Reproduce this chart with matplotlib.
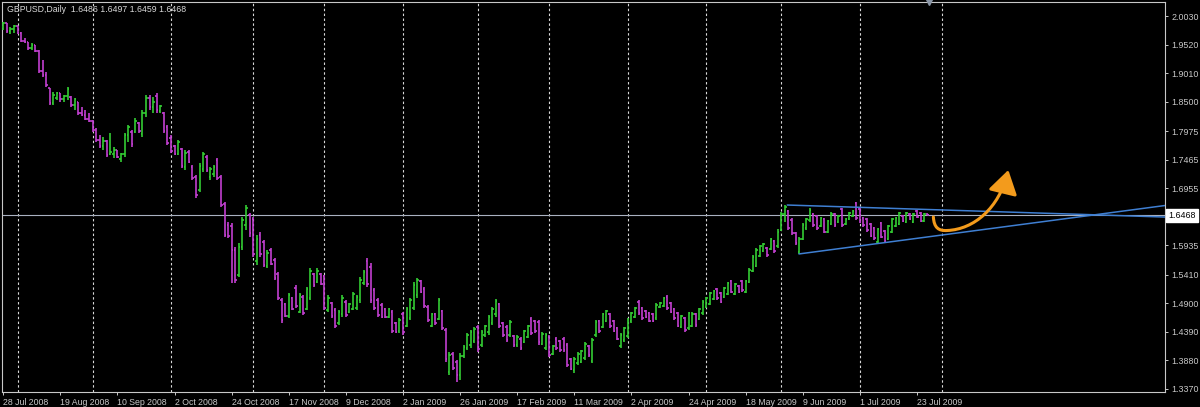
import matplotlib
matplotlib.use("Agg")
import matplotlib.pyplot as plt
from matplotlib.collections import LineCollection
from matplotlib.patches import FancyArrowPatch
from matplotlib.path import Path
import matplotlib.transforms as mtransforms

# ---------------- data (GBPUSD daily, 28 Jul 2008 .. 28 Jul 2009) ----------------
opens = [
 1.9830,1.9900,1.9760,1.9800,1.9850,1.9720,1.9590,1.9560,1.9450,1.9510,
 1.9400,1.9040,1.8980,1.8740,1.8480,1.8560,1.8650,1.8540,1.8600,1.8590,
 1.8440,1.8500,1.8300,1.8260,1.8190,1.8150,1.7990,1.7810,1.7700,1.7800,
 1.7560,1.7560,1.7640,1.7480,1.7560,1.7900,1.7950,1.7960,1.8120,1.7930,
 1.8300,1.8560,1.8400,1.8600,1.8330,1.8300,1.8050,1.7860,1.7700,1.7570,
 1.7650,1.7330,1.7600,1.7340,1.7150,1.6920,1.7300,1.7520,1.7150,1.7200,
 1.7450,1.7150,1.6680,1.6300,1.6280,1.5850,1.5400,1.5900,1.6300,1.6480,
 1.6400,1.5650,1.6120,1.5990,1.5560,1.5850,1.5680,1.5420,1.4960,1.4880,
 1.4680,1.4990,1.5180,1.4750,1.5020,1.4800,1.5000,1.5420,1.5280,1.5420,
 1.5380,1.4780,1.4900,1.4780,1.4540,1.4700,1.4930,1.4740,1.4800,1.4820,
 1.4950,1.5260,1.5650,1.5550,1.5130,1.4960,1.4870,1.4790,1.4660,1.4750,
 1.4540,1.4400,1.4700,1.4500,1.4640,1.4820,1.5050,1.5290,1.5150,1.4840,
 1.4500,1.4700,1.4620,1.4760,1.4430,1.3680,1.3990,1.3860,1.3620,1.3950,
 1.4100,1.4150,1.4220,1.4470,1.4150,1.4330,1.4380,1.4550,1.4700,1.4880,
 1.4540,1.4480,1.4330,1.4310,1.4150,1.4270,1.4210,1.4300,1.4620,1.4580,
 1.4560,1.4180,1.4100,1.4300,1.4000,1.4270,1.4220,1.4260,1.4160,1.3900,
 1.3700,1.3830,1.3860,1.3920,1.4140,1.3870,1.4330,1.4580,1.4480,1.4590,
 1.4700,1.4580,1.4450,1.4130,1.4240,1.4310,1.4580,1.4660,1.4930,1.4810,
 1.4760,1.4720,1.4700,1.4630,1.4830,1.4850,1.5020,1.4900,1.4790,1.4720,
 1.4480,1.4630,1.4450,1.4500,1.4700,1.4620,1.4720,1.4840,1.4890,1.4980,
 1.5150,1.5080,1.5010,1.5070,1.5290,1.5070,1.5210,1.5290,1.5100,1.5280,
 1.5480,1.5570,1.5750,1.5830,1.5890,1.5870,1.6010,1.5930,1.6200,1.6500,
 1.6540,1.6380,1.6150,1.5810,1.6050,1.6240,1.6380,1.6490,1.6450,1.6280,
 1.6400,1.6180,1.6320,1.6490,1.6350,1.6580,1.6310,1.6400,1.6450,1.6690,
 1.6580,1.6420,1.6400,1.6310,1.6240,1.6000,1.6330,1.6190,1.6050,1.6180,
 1.6280,1.6320,1.6460,1.6350,1.6500,1.6350,1.6550,1.6510,1.6370,1.6486,
]
highs = [
 1.9923,1.9910,1.9830,1.9870,1.9860,1.9750,1.9640,1.9565,1.9545,1.9515,
 1.9420,1.9240,1.9030,1.8745,1.8680,1.8670,1.8650,1.8620,1.8760,1.8600,
 1.8570,1.8500,1.8410,1.8350,1.8300,1.8173,1.8030,1.7905,1.7870,1.7816,
 1.7940,1.7690,1.7640,1.7580,1.7940,1.8084,1.7994,1.8200,1.8140,1.8351,
 1.8619,1.8619,1.8580,1.8655,1.8441,1.8315,1.8084,1.7905,1.7726,1.7816,
 1.7673,1.7637,1.7637,1.7369,1.7191,1.7405,1.7601,1.7548,1.7333,1.7369,
 1.7494,1.7191,1.6708,1.6351,1.6333,1.5904,1.5976,1.6440,1.6655,1.6512,
 1.6440,1.6119,1.6173,1.6030,1.5851,1.5887,1.5708,1.5458,1.4994,1.4905,
 1.5084,1.5012,1.5226,1.5084,1.5048,1.5191,1.5530,1.5441,1.5530,1.5441,
 1.5405,1.5048,1.4923,1.4816,1.4780,1.5048,1.4959,1.4905,1.5101,1.5048,
 1.5369,1.5494,1.5708,1.5619,1.5173,1.4994,1.4905,1.4816,1.4816,1.4780,
 1.4565,1.4637,1.4744,1.4834,1.4994,1.5280,1.5351,1.5316,1.5191,1.4869,
 1.4726,1.4726,1.4994,1.4780,1.4458,1.4030,1.4030,1.3887,1.4012,1.4155,
 1.4369,1.4423,1.4476,1.4512,1.4423,1.4512,1.4691,1.4834,1.4976,1.4905,
 1.4565,1.4512,1.4601,1.4334,1.4334,1.4298,1.4423,1.4512,1.4655,1.4601,
 1.4601,1.4387,1.4369,1.4334,1.4155,1.4298,1.4244,1.4298,1.4190,1.3923,
 1.3941,1.4030,1.4066,1.4208,1.4155,1.4280,1.4601,1.4601,1.4726,1.4780,
 1.4726,1.4601,1.4476,1.4369,1.4476,1.4637,1.4744,1.4834,1.4959,1.4834,
 1.4780,1.4744,1.4726,1.4905,1.4923,1.5012,1.5048,1.4923,1.4816,1.4744,
 1.4691,1.4655,1.4744,1.4744,1.4726,1.4816,1.4959,1.5012,1.5101,1.5137,
 1.5173,1.5101,1.5191,1.5280,1.5316,1.5262,1.5226,1.5316,1.5316,1.5530,
 1.5762,1.5887,1.5941,1.5976,1.5905,1.6065,1.6030,1.6230,1.6530,1.6655,
 1.6566,1.6423,1.6173,1.6083,1.6333,1.6423,1.6601,1.6512,1.6476,1.6441,
 1.6423,1.6387,1.6530,1.6512,1.6476,1.6601,1.6423,1.6530,1.6566,1.6708,
 1.6601,1.6441,1.6423,1.6333,1.6262,1.6244,1.6351,1.6209,1.6298,1.6423,
 1.6441,1.6530,1.6476,1.6530,1.6512,1.6512,1.6566,1.6530,1.6512,1.6497,
]
lows = [
 1.9780,1.9725,1.9700,1.9730,1.9700,1.9565,1.9550,1.9420,1.9420,1.9390,
 1.9010,1.8940,1.8760,1.8440,1.8440,1.8530,1.8495,1.8495,1.8530,1.8410,
 1.8350,1.8262,1.8240,1.8173,1.8140,1.7960,1.7780,1.7670,1.7640,1.7510,
 1.7550,1.7495,1.7495,1.7420,1.7510,1.7780,1.7690,1.7940,1.7940,1.7870,
 1.8230,1.8351,1.8300,1.8300,1.8300,1.7940,1.7726,1.7583,1.7548,1.7548,
 1.7315,1.7280,1.7405,1.7101,1.6780,1.6887,1.7244,1.7244,1.7101,1.7155,
 1.7101,1.6619,1.6083,1.6065,1.5262,1.5262,1.5369,1.5851,1.6209,1.6083,
 1.5726,1.5584,1.5726,1.5548,1.5530,1.5584,1.5316,1.4959,1.4548,1.4655,
 1.4637,1.4780,1.4816,1.4726,1.4691,1.4780,1.4959,1.5191,1.5262,1.5226,
 1.4780,1.4744,1.4637,1.4458,1.4512,1.4655,1.4655,1.4726,1.4780,1.4780,
 1.4905,1.5226,1.5191,1.4905,1.4780,1.4655,1.4637,1.4637,1.4637,1.4369,
 1.4369,1.4369,1.4334,1.4476,1.4601,1.4780,1.4994,1.5084,1.4816,1.4565,
 1.4476,1.4512,1.4601,1.4423,1.3851,1.3619,1.3709,1.3503,1.3530,1.3923,
 1.4066,1.4101,1.4191,1.4030,1.4119,1.4298,1.4334,1.4512,1.4655,1.4458,
 1.4298,1.4208,1.4298,1.4119,1.4119,1.4066,1.4190,1.4280,1.4334,1.4369,
 1.4155,1.4155,1.4066,1.3941,1.3976,1.4066,1.4030,1.4030,1.3762,1.3709,
 1.3655,1.3798,1.3833,1.3887,1.3941,1.3833,1.4298,1.4369,1.4458,1.4565,
 1.4458,1.4387,1.4244,1.4101,1.4208,1.4280,1.4548,1.4637,1.4691,1.4601,
 1.4637,1.4565,1.4565,1.4601,1.4816,1.4834,1.4780,1.4726,1.4601,1.4476,
 1.4458,1.4387,1.4423,1.4476,1.4476,1.4601,1.4691,1.4816,1.4869,1.4959,
 1.4959,1.4905,1.4994,1.5048,1.5084,1.5048,1.5084,1.5101,1.5084,1.5262,
 1.5459,1.5548,1.5726,1.5815,1.5726,1.5851,1.5800,1.5890,1.6190,1.6351,
 1.6209,1.6119,1.5941,1.5780,1.6030,1.6209,1.6351,1.6262,1.6209,1.6262,
 1.6155,1.6155,1.6298,1.6262,1.6333,1.6262,1.6298,1.6387,1.6441,1.6387,
 1.6333,1.6262,1.6173,1.6083,1.6030,1.5976,1.6065,1.5994,1.6030,1.6155,
 1.6262,1.6298,1.6351,1.6333,1.6387,1.6333,1.6423,1.6351,1.6351,1.6459,
]
closes = [
 1.9900,1.9760,1.9800,1.9850,1.9720,1.9590,1.9560,1.9450,1.9510,1.9400,
 1.9040,1.8980,1.8790,1.8480,1.8620,1.8650,1.8540,1.8600,1.8730,1.8440,
 1.8540,1.8290,1.8260,1.8190,1.8150,1.7990,1.7810,1.7700,1.7800,1.7540,
 1.7600,1.7640,1.7520,1.7560,1.7900,1.8040,1.7740,1.8150,1.7980,1.8300,
 1.8560,1.8400,1.8500,1.8350,1.8420,1.7980,1.7760,1.7620,1.7570,1.7780,
 1.7350,1.7590,1.7430,1.7130,1.6830,1.7350,1.7560,1.7280,1.7300,1.7330,
 1.7130,1.6660,1.6120,1.6100,1.5850,1.5320,1.5900,1.6380,1.6600,1.6150,
 1.5780,1.6050,1.5780,1.5580,1.5800,1.5610,1.5350,1.5000,1.4600,1.4680,
 1.5040,1.4800,1.4850,1.5040,1.4720,1.5150,1.5480,1.5220,1.5480,1.5250,
 1.4820,1.5000,1.4670,1.4490,1.4750,1.5000,1.4690,1.4880,1.5060,1.5010,
 1.5320,1.5460,1.5250,1.4950,1.4820,1.4690,1.4660,1.4660,1.4790,1.4400,
 1.4390,1.4600,1.4380,1.4800,1.4960,1.5230,1.5320,1.5110,1.4850,1.4600,
 1.4700,1.4540,1.4960,1.4450,1.3900,1.3980,1.3740,1.3620,1.3960,1.4120,
 1.4330,1.4390,1.4440,1.4080,1.4390,1.4490,1.4650,1.4800,1.4940,1.4500,
 1.4330,1.4240,1.4560,1.4150,1.4300,1.4100,1.4400,1.4490,1.4370,1.4400,
 1.4200,1.4360,1.4330,1.3980,1.4130,1.4100,1.4060,1.4060,1.3800,1.3730,
 1.3900,1.4000,1.4040,1.4180,1.3970,1.4240,1.4570,1.4400,1.4700,1.4760,
 1.4490,1.4410,1.4270,1.4340,1.4450,1.4600,1.4720,1.4810,1.4720,1.4630,
 1.4660,1.4590,1.4590,1.4870,1.4910,1.4990,1.4810,1.4750,1.4630,1.4500,
 1.4670,1.4420,1.4720,1.4710,1.4510,1.4790,1.4930,1.4990,1.5080,1.5120,
 1.4990,1.4930,1.5170,1.5260,1.5110,1.5240,1.5100,1.5130,1.5290,1.5500,
 1.5730,1.5860,1.5920,1.5950,1.5760,1.6040,1.5830,1.6180,1.6500,1.6620,
 1.6240,1.6150,1.5980,1.6050,1.6300,1.6400,1.6570,1.6290,1.6240,1.6420,
 1.6180,1.6370,1.6500,1.6290,1.6460,1.6290,1.6410,1.6510,1.6550,1.6420,
 1.6360,1.6290,1.6200,1.6110,1.6060,1.6220,1.6090,1.6020,1.6280,1.6400,
 1.6420,1.6510,1.6370,1.6510,1.6400,1.6490,1.6440,1.6370,1.6486,1.6468,
]

date_labels = ["28 Jul 2008", "19 Aug 2008", "10 Sep 2008", "2 Oct 2008", "24 Oct 2008",
               "17 Nov 2008", "9 Dec 2008", "2 Jan 2009", "26 Jan 2009", "17 Feb 2009",
               "11 Mar 2009", "2 Apr 2009", "24 Apr 2009", "18 May 2009", "9 Jun 2009",
               "1 Jul 2009", "23 Jul 2009"]
date_label_bars = [0, 16, 32, 48, 64, 80, 96, 112, 128, 144, 160, 176, 192, 208, 224, 240, 256]
month_start_bars = [4, 25, 47, 70, 90, 112, 133, 153, 175, 197, 218, 240, 263]
price_ticks = [2.0030, 1.9520, 1.9010, 1.8500, 1.7975, 1.7465, 1.6955,
               1.5935, 1.5410, 1.4900, 1.4390, 1.3880, 1.3370]
bid_price = 1.6468
title_text = "GBPUSD,Daily  1.6486 1.6497 1.6459 1.6468"

# trendlines of the triangle (bar index, price)
upper_line = [(219.5, 1.6655), (325.5, 1.6440)]
lower_line = [(222.8, 1.5780), (325.5, 1.6646)]
# hand-drawn forecast arrow (bar index, price)
arrow_pts = [(260.6, 1.6441), (260.8, 1.6250), (262.0, 1.6190), (264.5, 1.6200),
             (272.0, 1.6220), (279.0, 1.6600), (281.6, 1.7280)]

# ---------------- figure ----------------
W, H = 1200, 407
fig = plt.figure(figsize=(W / 100, H / 100), dpi=100, facecolor="black")
ax = fig.add_axes([2 / W, 1 - 392 / H, 1163 / W, 390 / H])
ax.set_facecolor("black")
ax.set_xlim(-0.36, 325.5)
ax.set_ylim(1.3316, 2.0280)

fg = "#c8c8c8"
up_col = "#33cc33"
dn_col = "#c23fd0"

# grid: dashed vertical lines at month starts
for b in month_start_bars:
    ax.axvline(b, color="#d8d8d8", lw=0.8, dashes=(2.2, 2.2), zorder=1)

# OHLC bars
segs_up, segs_dn = [], []
for i, (o, h, l, c) in enumerate(zip(opens, highs, lows, closes)):
    s = [[(i, l), (i, h)], [(i - 0.45, o), (i, o)], [(i, c), (i + 0.45, c)]]
    (segs_up if c >= o else segs_dn).extend(s)
ax.add_collection(LineCollection(segs_up, colors=up_col, linewidths=1.2, zorder=3))
ax.add_collection(LineCollection(segs_dn, colors=dn_col, linewidths=1.2, zorder=3))

# bid line
ax.axhline(bid_price, color="#a9b1c0", lw=0.8, zorder=2)

# triangle lines
tri_col = "#3f7fd2"
for ln in (upper_line, lower_line):
    ax.plot([p[0] for p in ln], [p[1] for p in ln], color=tri_col, lw=1.1, zorder=4,
            solid_capstyle="butt")

# orange arrow
codes = [Path.MOVETO, Path.CURVE4, Path.CURVE4, Path.CURVE4,
         Path.CURVE4, Path.CURVE4, Path.CURVE4]
arrow = FancyArrowPatch(path=Path(arrow_pts, codes),
                        arrowstyle="-|>,head_length=0.95,head_width=0.6",
                        mutation_scale=15, color="#f39b1c", lw=2.2,
                        transform=ax.transData, zorder=5)
ax.add_patch(arrow)

# axes styling
for sp in ax.spines.values():
    sp.set_color(fg)
    sp.set_linewidth(0.8)

ax.yaxis.tick_right()
ax.set_yticks(price_ticks)
ax.set_yticklabels([f"{v:.4f}" for v in price_ticks])
ax.set_xticks(date_label_bars)
ax.set_xticklabels(date_labels)
ax.tick_params(axis="y", colors=fg, length=2.5, width=0.7, pad=2, labelsize=6.4)
ax.tick_params(axis="x", colors=fg, length=2.5, width=0.7, pad=1.5, labelsize=6.3)
for lbl in ax.get_xticklabels():
    lbl.set_ha("left")
    lbl.set_fontfamily("Liberation Sans")
for lbl in ax.get_yticklabels():
    lbl.set_fontfamily("Liberation Sans")

# bid price box on the price scale
trans = mtransforms.blended_transform_factory(ax.transAxes, ax.transData)
ax.text(1.0025, bid_price, f"{bid_price:.4f}", transform=trans, ha="left", va="center",
        fontsize=6.4, family="Liberation Sans", color="black", clip_on=False, zorder=10,
        bbox=dict(boxstyle="square,pad=0.25", fc="white", ec="white"))

# chart shift marker at top
ax.plot([259.5], [1.0], marker="v", ms=5, color="#8a96a6",
        transform=mtransforms.blended_transform_factory(ax.transData, ax.transAxes),
        clip_on=False, zorder=10)

# title
fig.text(7 / W, 1 - 10 / H, title_text, color="#d8d8d8", fontsize=6.3,
         family="Liberation Sans", va="center", ha="left")

fig.savefig("out.png", dpi=100, facecolor="black")
